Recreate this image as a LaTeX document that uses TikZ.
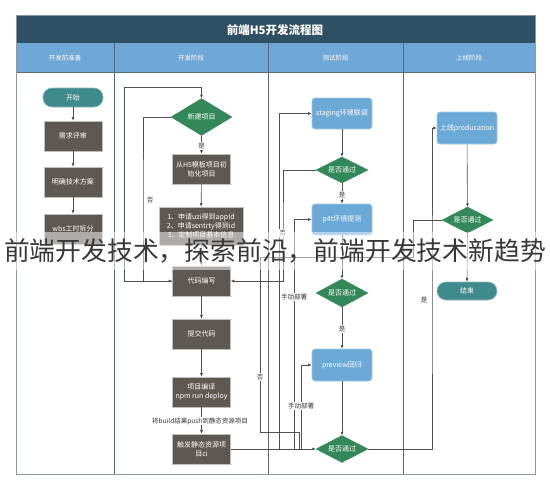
\documentclass[tikz,border=0pt]{standalone}
\usepackage{fontspec}
\setmainfont{Noto Sans CJK SC}
\usetikzlibrary{shapes.geometric,arrows.meta,calc}
\definecolor{hdark}{RGB}{47,79,101}
\definecolor{hblue}{RGB}{111,168,214}
\definecolor{framec}{RGB}{140,152,164}
\definecolor{divc}{RGB}{90,106,122}
\definecolor{boxgray}{RGB}{94,88,83}
\definecolor{boxedge}{RGB}{190,190,190}
\definecolor{teal1}{RGB}{63,138,140}
\definecolor{blue1}{RGB}{107,169,215}
\definecolor{green1}{RGB}{50,136,88}
\definecolor{linec}{RGB}{80,80,80}
\tikzset{
  base/.style={font=\fontsize{7}{9}\selectfont, text=white, align=center, inner sep=1pt},
  graybox/.style={base, rectangle, fill=boxgray, draw=boxedge, line width=0.6pt, minimum width=58pt, minimum height=30pt},
  pill/.style={base, rectangle, rounded corners=9pt, fill=teal1, draw=teal1!60!white, line width=0.6pt, minimum width=60pt, minimum height=19pt},
  bluebox/.style={base, rectangle, rounded corners=3pt, fill=blue1, draw=blue1!60!white, line width=0.6pt, minimum width=60pt, minimum height=31pt},
  dia/.style={base, diamond, aspect=2, fill=green1, draw=green1, inner sep=0pt},
  arr/.style={draw=linec, line width=0.6pt, -{Latex[length=3.5pt,width=3pt]}},
  ln/.style={draw=linec, line width=0.6pt},
  lbl/.style={font=\fontsize{6.5}{7}\selectfont, text=black!80, fill=white, inner sep=0.8pt},
  plainlbl/.style={font=\fontsize{6.5}{7}\selectfont, text=black!80, inner sep=0.8pt},
  hdr/.style={font=\fontsize{6.5}{7}\selectfont, text=white},
}
\begin{document}
\begin{tikzpicture}[x=1pt,y=-1pt]
\useasboundingbox (0,0) rectangle (550,490);
\fill[white] (0,0) rectangle (550,490);
% frame and lanes
\fill[hdark] (16,15) rectangle (535,43);
\fill[hblue] (16,43) rectangle (535,72);
\draw[divc, line width=0.7pt] (16,72) -- (535,72);
\foreach \x in {114.5,268.5,403} { \draw[divc, line width=0.7pt] (\x,43) -- (\x,474); }
\draw[framec, line width=0.9pt] (16,15) rectangle (535,474);
\node[font=\bfseries\fontsize{11.5}{13}\selectfont, text=white] (title) at (275,30) {前端H5开发流程图};
\node[hdr] (L1) at (65,58) {开发前准备};
\node[hdr] (L2) at (191,58) {开发阶段};
\node[hdr] (L3) at (335.5,58) {测试阶段};
\node[hdr] (L4) at (469,58) {上线阶段};

% lane 1
\node[pill] (start) at (73,97.5) {开始};
\node[graybox] (r1) at (73,136) {需求评审};
\node[graybox] (r2) at (73,182) {明确技术方案};
\node[graybox] (r3) at (73,229) {wbs工时拆分};

% lane 2
\node[dia, minimum width=61pt, minimum height=37pt] (n1) at (201.5,117) {新建项目};
\node[graybox] (n2) at (201.5,169) {从H5模板项目初\\始化项目};
\node[graybox, minimum width=84pt, minimum height=38pt] (n3) at (201,226) {1、申请uzi得到appId\\2、申请sentrty得到id\\3、定制项目基本信息};
\node[graybox] (n4) at (201.5,281) {代码编写};
\node[graybox] (n5) at (201.5,334) {提交代码};
\node[graybox] (n6) at (201.5,392) {项目编译\\npm run deploy};
\node[graybox] (n7) at (201.5,449) {触发静态资源项\\目ci};

% lane 3
\node[bluebox] (t1) at (342,113.5) {staging环境联调};
\node[dia, minimum width=52pt, minimum height=26pt] (d1) at (342,170) {是否通过};
\node[bluebox] (t2) at (342,219.5) {p4t环境提测};
\node[dia, minimum width=52pt, minimum height=28pt] (d2) at (342,293) {是否通过};
\node[bluebox, minimum height=32pt] (t3) at (342,365) {preview回归};
\node[dia, minimum width=52pt, minimum height=27pt] (d3) at (342,449) {是否通过};

% lane 4
\node[bluebox, minimum height=32pt] (u1) at (467,128) {上线producation};
\node[dia, minimum width=51pt, minimum height=26pt] (d4) at (467.5,220) {是否通过};
\node[pill, minimum height=18pt] (fin) at (467,291) {结束};

% coordinates
\coordinate (a1) at (124,281);
\coordinate (a2) at (201.5,87);
\coordinate (b1) at (143,200);
\coordinate (c1) at (283,233);
\coordinate (s1) at (279,449);
\coordinate (s2) at (294,449);
\coordinate (s3) at (301,449);
\coordinate (g1) at (432,300);
\coordinate (e1) at (413,257);
\coordinate (e2) at (260,432);
\coordinate (e3) at (299,449);

% connectors lane 1
\draw[arr] (start) -- (r1);
\draw[arr] (r1) -- (r2);
\draw[arr] (r2) -- (r3);

% connectors lane 2
\draw[ln] (a1) -- (n4.west);
\draw[arr] (a1) |- (a2) -- (n1.north);
\draw[arr] (n1.west) -| (b1) |- (n4.west);
\node[plainlbl] (no1) at (150,200) {否};
\draw[arr] (n1.south) -- (n2.north);
\node[lbl] (yes1) at (201.5,146) {是};
\draw[arr] (n2) -- (n3);
\draw[arr] (n3) -- (n4);
\draw[arr] (n4) -- (n5);
\draw[arr] (n5) -- (n6);
\draw[arr] (n6) -- (n7);
\node[lbl] (push) at (200,421) {将build结果push到静态资源项目};

% connectors lane 3
\draw[arr] (n7.east) -- (d3.west);
\draw[arr] (s1) |- (t1.west);
\draw[arr] (s2) |- (t2.west);
\draw[arr] (s3) |- (t3.west);
\draw[arr] (t1) -- (d1);
\draw[arr] (d1.south) -- (t2.north);
\node[lbl] (yes2) at (342,195) {是};
\draw[arr] (d1.west) -| (c1) |- (n4.east);
\node[lbl] (no2) at (282.5,233) {否};
\draw[arr] (t2) -- (d2);
\draw[arr] (d2.south) -- (t3.north);
\node[lbl] (yes3) at (342,329) {是};
\draw[arr] (t3) -- (d3);
\node[lbl] (dep1) at (294,297) {手动部署};
\node[lbl] (dep2) at (301,406) {手动部署};

% connectors lane 4
\draw[arr] (d3.east) -| (g1) |- (u1.west);
\node[plainlbl] (yes4) at (424,300) {是};
\draw[arr] (u1) -- (d4);
\draw[arr] (d4.south) -- (fin.north);
\draw[ln] (d4.west) -| (e1) -| (e2) -| (e3);
\node[lbl] (no3) at (260,377) {否};

% watermark
\fill[white, opacity=0.5] (0,232) rectangle (550,270);
\node[font=\fontsize{25.8}{27}\selectfont, text=black!78, inner sep=0pt] (wm) at (275,251) {前端开发技术，探索前沿，前端开发技术新趋势};
\end{tikzpicture}
\end{document}
